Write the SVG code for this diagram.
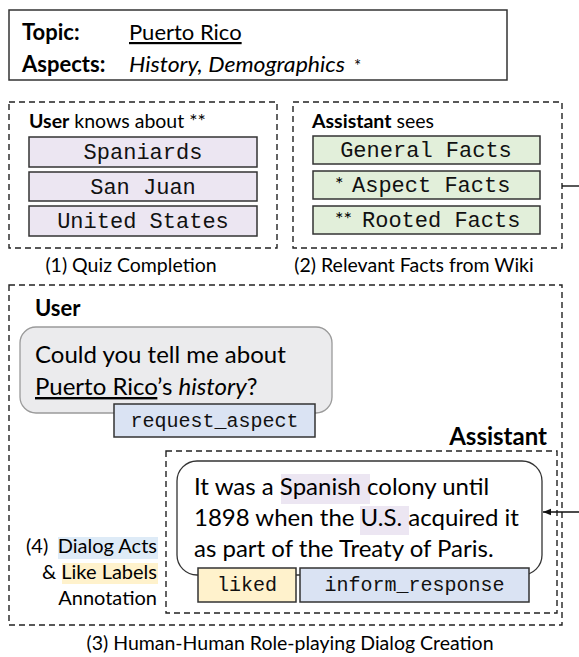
<svg xmlns="http://www.w3.org/2000/svg" width="579" height="657" viewBox="0 0 579 657">
<defs>
<style>
.t{font-family:Lato,"Liberation Sans",sans-serif;fill:#000}
.m{font-family:"Liberation Mono","Courier New",monospace;fill:#111}
.b{font-weight:bold}
.dash{fill:none;stroke:#222;stroke-width:1.4;stroke-dasharray:6 4}
.box{stroke:#333;stroke-width:1.5}
.purple{fill:#ece6f2}
.green{fill:#e2efda}
.blue{fill:#dae3f3}
.yellow{fill:#fff2cc}
.conn{stroke:#111;stroke-width:1.4;fill:none}
</style>
<marker id="arr" viewBox="0 0 10 10" refX="10" refY="5" markerWidth="8" markerHeight="8" orient="auto" markerUnits="userSpaceOnUse">
<path d="M0,1 L10,5 L0,9 z" fill="#111"/>
</marker>
</defs>
<rect width="579" height="657" fill="#fff"/>

<g id="topic">
<rect x="9" y="10" width="498" height="70" fill="#fff" class="box"/>
<text class="t b" x="22" y="40" font-size="22">Topic:</text>
<text class="t" x="129" y="40" font-size="22" text-decoration="underline">Puerto Rico</text>
<text class="t b" x="22" y="72" font-size="22">Aspects:</text>
<text class="t" x="129" y="72" font-size="22" font-style="italic" textLength="216" lengthAdjust="spacingAndGlyphs">History, Demographics</text>
<text class="t" x="354" y="72" font-size="17">*</text>
</g>

<g id="quiz">
<rect x="9" y="102" width="268" height="146" class="dash"/>
<text class="t" x="29" y="128" font-size="19.5"><tspan class="b">User</tspan> knows about **</text>
<rect x="29" y="137" width="228" height="30" class="purple box"/>
<rect x="29" y="172" width="228" height="29" class="purple box"/>
<rect x="29" y="206" width="228" height="30" class="purple box"/>
<text class="m" x="143" y="159" font-size="22" text-anchor="middle">Spaniards</text>
<text class="m" x="143" y="194" font-size="22" text-anchor="middle">San Juan</text>
<text class="m" x="143" y="228" font-size="22" text-anchor="middle">United States</text>
<text class="t" x="131" y="272" font-size="19.5" text-anchor="middle">(1)  Quiz Completion</text>
</g>

<g id="facts">
<rect x="293" y="102" width="269" height="146" class="dash"/>
<text class="t" x="312" y="128" font-size="19.5"><tspan class="b">Assistant</tspan> sees</text>
<rect x="313" y="136" width="227" height="28" class="green box"/>
<rect x="313" y="171" width="227" height="28" class="green box"/>
<rect x="313" y="206" width="227" height="28" class="green box"/>
<text class="m" x="426" y="157" font-size="22" text-anchor="middle">General Facts</text>
<text class="t" x="335" y="191" font-size="20">*</text>
<text class="m" x="352" y="192" font-size="22">Aspect Facts</text>
<text class="t" x="335" y="226" font-size="20">**</text>
<text class="m" x="362" y="227" font-size="22">Rooted Facts</text>
<text class="t" x="414" y="272" font-size="19.5" text-anchor="middle">(2) Relevant Facts from Wiki</text>
</g>

<g id="dialog">
<rect x="9" y="285" width="553" height="340" class="dash"/>
<text class="t" x="290" y="650" font-size="19.5" text-anchor="middle">(3) Human-Human Role-playing Dialog Creation</text>
</g>

<g id="user-turn">
<text class="t b" x="35" y="316" font-size="22">User</text>
<rect x="20" y="327" width="312" height="86" rx="16" fill="#ebebed" stroke="#9a9a9a" stroke-width="1.3"/>
<text class="t" x="35" y="363" font-size="24">Could you tell me about</text>
<text class="t" x="35" y="395" font-size="24"><tspan text-decoration="underline">Puerto Rico</tspan>’s <tspan font-style="italic">history</tspan>?</text>
<rect x="114" y="404" width="201" height="33" class="blue box"/>
<text class="m" x="214.5" y="427" font-size="20" text-anchor="middle">request_aspect</text>
</g>

<g id="assistant-turn">
<text class="t b" x="547" y="445" font-size="24" text-anchor="end">Assistant</text>
<rect x="166" y="451" width="391" height="162" class="dash"/>
<rect x="177" y="461" width="365" height="114" rx="20" fill="#fff" stroke="#333" stroke-width="1.3"/>
<rect x="281" y="474" width="89" height="30" class="purple"/>
<rect x="360" y="506" width="49" height="29" class="purple"/>
<text class="t" x="194" y="495" font-size="24">It was a Spanish colony until</text>
<text class="t" x="194" y="526" font-size="24">1898 when the U.S. acquired it</text>
<text class="t" x="194" y="557" font-size="24">as part of the Treaty of Paris.</text>
<rect x="198" y="568" width="98" height="34" class="yellow box"/>
<text class="m" x="247" y="591" font-size="20" text-anchor="middle">liked</text>
<rect x="300" y="568" width="229" height="34" class="blue box"/>
<text class="m" x="414.5" y="591" font-size="20" text-anchor="middle">inform_response</text>
</g>

<g id="annotation">
<rect x="58" y="537" width="100" height="22" fill="#deebf7"/>
<rect x="62" y="563" width="96" height="21" class="yellow"/>
<text class="t" x="26" y="553" font-size="20">(4)</text>
<text class="t" x="157" y="553" font-size="20" text-anchor="end">Dialog Acts</text>
<text class="t" x="157" y="579" font-size="20" text-anchor="end">&amp; Like Labels</text>
<text class="t" x="157" y="605" font-size="20" text-anchor="end">Annotation</text>
</g>

<g id="connectors">
<line x1="562" y1="186" x2="579" y2="186" class="conn"/>
<line x1="579" y1="512" x2="543" y2="512" class="conn" marker-end="url(#arr)"/>
</g>
</svg>
